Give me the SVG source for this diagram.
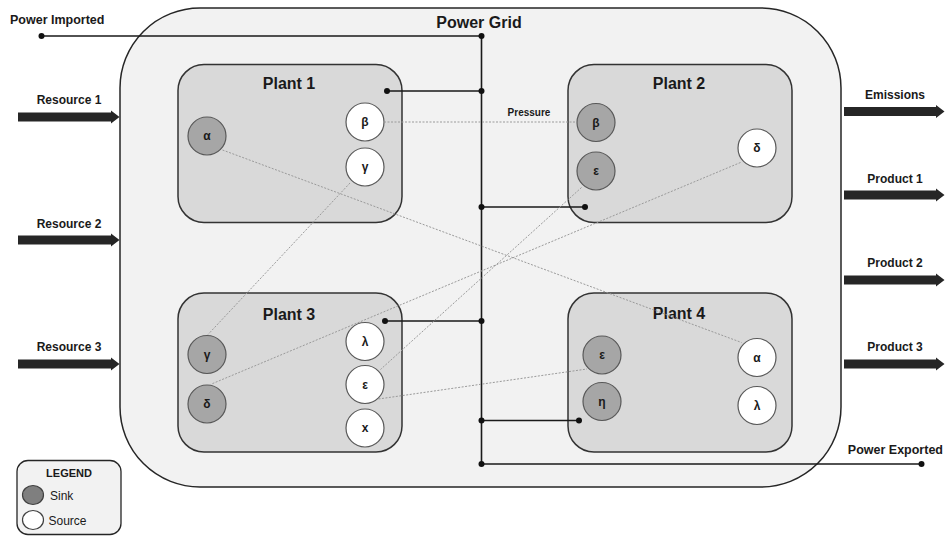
<svg xmlns="http://www.w3.org/2000/svg" width="946" height="536" viewBox="0 0 946 536">
<style>
text{font-family:"Liberation Sans",Arial,sans-serif;fill:#1a1a1a}
.b{font-weight:bold}
.lbl{font-size:12px;font-weight:bold;text-anchor:middle}
.ttl{font-size:16px;font-weight:bold;text-anchor:middle}
.grk{font-size:12px;font-weight:bold;text-anchor:middle}
.grid{fill:#f2f2f2;stroke:#262626;stroke-width:1.5}
.plant{fill:#d9d9d9;stroke:#333;stroke-width:1.5}
.sink{fill:#a6a6a6;stroke:#595959;stroke-width:1.2}
.src{fill:#fff;stroke:#595959;stroke-width:1.2}
.arr{fill:#262626}
.bus{stroke:#1a1a1a;stroke-width:1.6;fill:none}
.dot{fill:#111}
.flow{stroke:#9a9a9a;stroke-width:1;stroke-dasharray:2 1.5;fill:none}
</style>

<g id="power-grid">
<rect class="grid" x="120" y="8" width="721" height="479" rx="80" ry="80"/>
<text class="ttl" x="479" y="28">Power Grid</text>
</g>

<g id="plant1">
<rect class="plant" x="178" y="64.5" width="224" height="158" rx="26" ry="26"/>
<text class="ttl" x="289" y="89">Plant 1</text>
<g id="p1-alpha"><circle class="sink" cx="207" cy="136" r="19"/><text class="grk" x="207" y="140">α</text></g>
<g id="p1-beta"><circle class="src" cx="365" cy="122" r="19"/><text class="grk" x="365" y="126">β</text></g>
<g id="p1-gamma"><circle class="src" cx="365" cy="167" r="19"/><text class="grk" x="365" y="171">γ</text></g>
</g>

<g id="plant2">
<rect class="plant" x="568" y="64.5" width="224" height="158" rx="26" ry="26"/>
<text class="ttl" x="679" y="89">Plant 2</text>
<g id="p2-beta"><circle class="sink" cx="596" cy="122.5" r="19"/><text class="grk" x="596" y="126.5">β</text></g>
<g id="p2-epsilon"><circle class="sink" cx="596" cy="171" r="19"/><text class="grk" x="596" y="175">ε</text></g>
<g id="p2-delta"><circle class="src" cx="757" cy="148" r="19"/><text class="grk" x="757" y="152">δ</text></g>
</g>

<g id="plant3">
<rect class="plant" x="178" y="293" width="224" height="159" rx="26" ry="26"/>
<text class="ttl" x="289" y="320">Plant 3</text>
<g id="p3-gamma"><circle class="sink" cx="207" cy="354.5" r="19"/><text class="grk" x="207" y="358.5">γ</text></g>
<g id="p3-delta"><circle class="sink" cx="207" cy="404" r="19"/><text class="grk" x="207" y="408">δ</text></g>
<g id="p3-lambda"><circle class="src" cx="365" cy="341.5" r="19"/><text class="grk" x="365" y="345.5">λ</text></g>
<g id="p3-epsilon"><circle class="src" cx="365" cy="384.5" r="19"/><text class="grk" x="365" y="388.5">ε</text></g>
<g id="p3-chi"><circle class="src" cx="365" cy="428" r="19"/><text class="grk" x="365" y="432">x</text></g>
</g>

<g id="plant4">
<rect class="plant" x="568" y="293" width="224" height="159" rx="26" ry="26"/>
<text class="ttl" x="679" y="319">Plant 4</text>
<g id="p4-epsilon"><circle class="sink" cx="602" cy="355" r="19"/><text class="grk" x="602" y="359">ε</text></g>
<g id="p4-eta"><circle class="sink" cx="602" cy="401.5" r="19"/><text class="grk" x="602" y="405.5">η</text></g>
<g id="p4-alpha"><circle class="src" cx="757" cy="357.5" r="19"/><text class="grk" x="757" y="361.5">α</text></g>
<g id="p4-lambda"><circle class="src" cx="757" cy="405.5" r="19"/><text class="grk" x="757" y="409.5">λ</text></g>
</g>

<g id="inputs">
<text class="lbl" x="69" y="104">Resource 1</text>
<path class="arr" d="M18,112.5 H111 V110.5 L119.5,117 L111,123.5 V121.5 H18 Z"/>
<text class="lbl" x="69" y="227.5">Resource 2</text>
<path class="arr" d="M18,235.5 H111 V233.5 L119.5,240 L111,246.5 V244.5 H18 Z"/>
<text class="lbl" x="69" y="350.5">Resource 3</text>
<path class="arr" d="M18,359.5 H111 V357.5 L119.5,364 L111,370.5 V368.5 H18 Z"/>
</g>

<g id="outputs">
<text class="lbl" x="895" y="98.5">Emissions</text>
<path class="arr" d="M844,107 H936 V105 L944.5,111.5 L936,118 V116 H844 Z"/>
<text class="lbl" x="895" y="182.5">Product 1</text>
<path class="arr" d="M844,190.5 H936 V188.5 L944.5,195 L936,201.5 V199.5 H844 Z"/>
<text class="lbl" x="895" y="266.5">Product 2</text>
<path class="arr" d="M844,275.5 H936 V273.5 L944.5,280 L936,286.5 V284.5 H844 Z"/>
<text class="lbl" x="895" y="351">Product 3</text>
<path class="arr" d="M844,359.5 H936 V357.5 L944.5,364 L936,370.5 V368.5 H844 Z"/>
</g>

<g id="connectors">
<g id="power-bus">
<text class="b" x="10" y="24" style="font-size:12.5px">Power Imported</text>
<text class="b" x="943" y="453.5" style="font-size:12.5px;text-anchor:end">Power Exported</text>
<path class="bus" d="M41.5,36 H481.5 V464 H921.5"/>
<path class="bus" d="M387,91 H481.5 M481.5,207 H585 M385,321 H481.5 M481.5,420.5 H579"/>
<circle class="dot" cx="41.5" cy="36" r="3"/>
<circle class="dot" cx="481.5" cy="36" r="3"/>
<circle class="dot" cx="387" cy="91" r="3"/>
<circle class="dot" cx="481.5" cy="91" r="3"/>
<circle class="dot" cx="481.5" cy="207" r="3"/>
<circle class="dot" cx="585" cy="207" r="3"/>
<circle class="dot" cx="385" cy="321" r="3"/>
<circle class="dot" cx="481.5" cy="321" r="3"/>
<circle class="dot" cx="481.5" cy="420.5" r="3"/>
<circle class="dot" cx="579" cy="420.5" r="3"/>
<circle class="dot" cx="481.5" cy="464" r="3"/>
<circle class="dot" cx="921.5" cy="464" r="3"/>
</g>
<g id="flows">
<path class="flow" d="M384,122 H577"/>
<text x="529" y="116" style="font-size:10px;font-weight:bold;text-anchor:middle">Pressure</text>
<path class="flow" d="M222.5,150 L741.5,342.5"/>
<path class="flow" d="M350,183 L208,334.5"/>
<path class="flow" d="M740.5,162.5 L211.5,384"/>
<path class="flow" d="M581.5,187.5 L380.5,369.5"/>
<path class="flow" d="M378.5,399 L587,369"/>
</g>
</g>

<g id="legend">
<rect x="17" y="460.5" width="104" height="74" rx="11" ry="11" fill="#f2f2f2" stroke="#262626" stroke-width="1.3"/>
<text class="b" x="69" y="476.5" style="font-size:11px;text-anchor:middle">LEGEND</text>
<ellipse cx="33" cy="495" rx="10.5" ry="9.5" fill="#7f7f7f" stroke="#404040" stroke-width="1.2"/>
<text x="50" y="500" style="font-size:12px">Sink</text>
<ellipse cx="33" cy="520" rx="10.5" ry="9.5" fill="#fff" stroke="#404040" stroke-width="1.2"/>
<text x="48.5" y="525" style="font-size:12px">Source</text>
</g>
</svg>
